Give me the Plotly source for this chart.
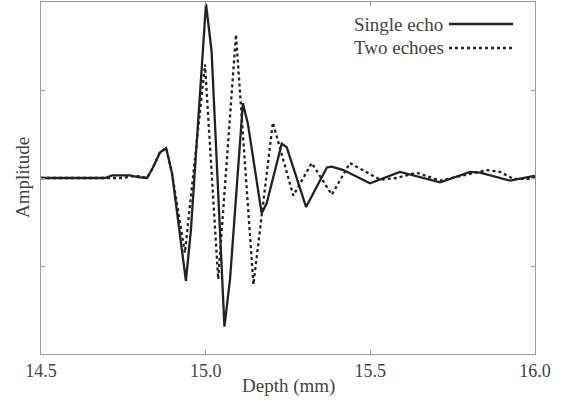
import plotly.graph_objects as go

# Single echo (solid)
single_depth = [14.50, 14.694, 14.716, 14.770, 14.795, 14.822, 14.840, 14.861, 14.880, 14.898,
                14.940, 14.955, 15.001, 15.018, 15.057, 15.074, 15.113, 15.128, 15.170, 15.185,
                15.231, 15.246, 15.305, 15.368, 15.383, 15.418, 15.499, 15.590, 15.712, 15.803,
                15.833, 15.924, 15.994, 16.0]
single_amp = [0.0, 0.0, 0.03, 0.03, 0.01, 0.0, 0.12, 0.29, 0.34, 0.05,
              -1.17, -0.6, 1.98, 1.44, -1.69, -1.15, 0.85, 0.62, -0.40, -0.29,
              0.39, 0.35, -0.33, 0.12, 0.13, 0.09, -0.06, 0.07, -0.05, 0.07,
              0.06, -0.03, 0.02, 0.02]

# Two echoes (dotted)
two_depth = [14.50, 14.75, 14.77, 14.80, 14.822, 14.840, 14.861, 14.880, 14.898, 14.937,
             14.998, 15.038, 15.092, 15.145, 15.204, 15.266, 15.322, 15.383, 15.438, 15.478,
             15.530, 15.580, 15.641, 15.712, 15.762, 15.853, 15.894, 15.934, 15.985, 16.0]
two_amp = [0.0, 0.0, 0.02, 0.02, 0.0, 0.12, 0.29, 0.34, 0.05, -0.85,
           1.29, -1.15, 1.63, -1.21, 0.63, -0.20, 0.17, -0.19, 0.17, 0.09,
           -0.02, 0.0, 0.06, -0.03, 0.01, 0.09, 0.07, -0.01, -0.01, 0.01]

x_ticks = [14.5, 15.0, 15.5, 16.0]
x_tick_labels = ["14.5", "15.0", "15.5", "16.0"]
y_ticks = [-1, 0, 1]

FONT = "Liberation Serif, Times New Roman, serif"
TXT = "#444444"
AX = "#9a9a9a"

fig = go.Figure()
fig.add_trace(go.Scatter(x=single_depth, y=single_amp, mode="lines", name="Single echo",
                         line=dict(color="#222222", width=2.3), showlegend=False))
fig.add_trace(go.Scatter(x=two_depth, y=two_amp, mode="lines", name="Two echoes",
                         line=dict(color="#222222", width=2.3, dash="dot"), showlegend=False))

fig.update_layout(
    width=563, height=403,
    margin=dict(l=41, r=28, t=2, b=49),
    paper_bgcolor="white", plot_bgcolor="white",
    font=dict(family=FONT, size=18, color=TXT),
    xaxis=dict(range=[14.5, 16.0], tickvals=x_ticks, ticktext=x_tick_labels,
               ticks="inside", ticklen=4, tickcolor=AX, showline=True, linecolor=AX,
               linewidth=1, mirror="ticks", showgrid=False, zeroline=False,
               tickfont=dict(family=FONT, size=18, color=TXT)),
    yaxis=dict(range=[-2, 2], tickvals=y_ticks, showticklabels=False,
               ticks="inside", ticklen=4, tickcolor=AX, showline=True, linecolor=AX,
               linewidth=1, mirror="ticks", showgrid=False, zeroline=False),
)

# Axis titles
fig.add_annotation(text="Depth (mm)", xref="paper", yref="paper", x=0.5, y=0,
                   yshift=-32, yanchor="middle", showarrow=False,
                   font=dict(family=FONT, size=19, color=TXT))
fig.add_annotation(text="Amplitude", xref="paper", yref="paper", x=0, y=0.5,
                   xshift=-19, textangle=-90, xanchor="center", showarrow=False,
                   font=dict(family=FONT, size=19, color=TXT))

# Legend (text left, sample line right)
legend_items = [("Single echo", "solid"), ("Two echoes", "dot")]
for i, (label, dash) in enumerate(legend_items):
    ypix = 24 + i * 24
    ypaper = 1 - (ypix - 2) / 352
    fig.add_annotation(text=label, xref="paper", yref="paper",
                       x=(352 - 41) / 494, y=ypaper, xanchor="left", yanchor="middle",
                       showarrow=False, font=dict(family=FONT, size=19, color=TXT))
    fig.add_shape(type="line", xref="paper", yref="paper",
                  x0=(449 - 41) / 494, x1=(513 - 41) / 494, y0=ypaper, y1=ypaper,
                  line=dict(color="#222222", width=2.3, dash=dash))

fig.write_html("out.html", config={"displayModeBar": False},
               post_script="document.body.style.margin='0';")
